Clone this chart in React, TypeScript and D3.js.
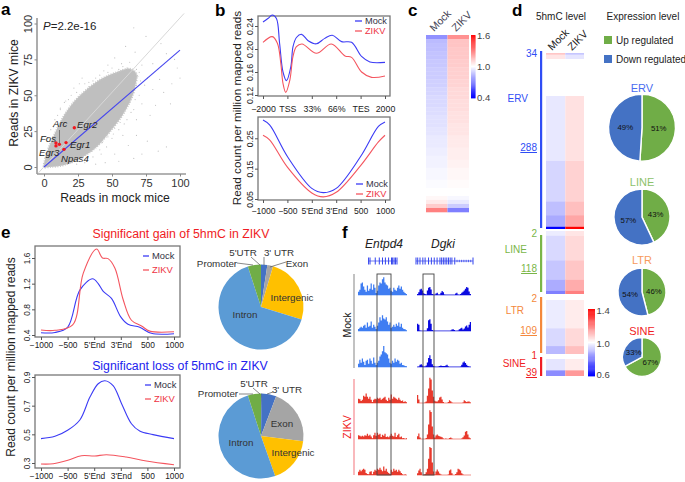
import React, { useEffect, useRef } from 'react';
import * as d3 from 'd3';

const FONT = '"Liberation Sans", Arial, sans-serif';
const BLUE = '#3b3bf5';
const RED = '#f4555f';

// panel a: outline of the dense cloud plus the stray points around it
const cloudOutline: [number, number][] = [
  [0, 0], [1, 6], [3.2, 13], [8, 23.5], [14.2, 35], [21.6, 45], [31.4, 54], [42.4, 61.5],
  [53.4, 66], [63, 68.5], [68, 65], [67, 56], [64, 47], [57, 35], [48.5, 24.6], [38.7, 14], [26.5, 6],
  [14.2, 1.2], [4.4, 0],
];
const strayPoints: [number, number][] = [
  [66, 97], [75, 91], [67, 80], [86, 86], [90, 79], [98, 69], [80, 72], [72, 71], [76, 62], [85, 61],
  [70, 66], [57, 72], [63, 73], [50, 69], [44, 67], [38, 62], [52, 76], [60, 84], [47, 71], [30, 58],
  [24, 52], [18, 47], [12, 40], [8, 33], [5, 26], [3, 20], [22, 55], [15, 45], [28, 62], [10, 36],
  [74, 57], [70, 50], [80, 54], [94, 58], [72, 44], [66, 40], [61, 33], [68, 33], [55, 26], [50, 20],
  [58, 22], [46, 14], [42, 9], [36, 7], [30, 3], [24, 2], [52, 9], [62, 15], [68, 22], [76, 18],
  [84, 11], [90, 14], [66, 6], [45, 3], [38, 2], [55, 4], [72, 9], [33, 56], [36, 60], [41, 64],
  [47, 66], [55, 68], [61, 69], [65, 68], [69, 63], [68, 57], [66, 52], [63, 45], [60, 40], [56, 31],
  [52, 27], [47, 21], [43, 17], [35, 11], [30, 8], [20, 3], [12, 41], [16, 46], [20, 50], [7, 28],
  [26, 58], [33, 59], [58, 70], [68, 68], [71, 60], [67, 47], [64, 38], [59, 30], [51, 23], [41, 12],
  [100, 62], [82, 43], [78, 36], [96, 75], [88, 52], [93, 44],
];
const genePoints: [number, number][] = [[22.3, 27.4], [16.2, 17], [11.3, 15.8], [8.8, 16.7], [8.8, 14.7], [14.7, 12.3]];
const aTicks = [0, 25, 50, 75, 100];

// panel b
const bTopMockT = [0, 0.2, 0.38, 0.55, 0.68, 0.82, 0.96, 1.14, 1.23, 1.37, 1.58, 1.85, 2.19, 2.53, 2.84, 3.22, 3.63, 4.04, 4.38, 5];
const bTopMock = [0.247, 0.253, 0.259, 0.253, 0.21, 0.16, 0.145, 0.169, 0.204, 0.22, 0.2255, 0.2145, 0.209, 0.2185, 0.224, 0.2128, 0.2116, 0.187, 0.1774, 0.1768];
const bTopZikvT = [0, 0.38, 0.59, 0.73, 0.82, 0.93, 1.1, 1.23, 1.37, 1.6, 2.19, 2.8, 3.36, 3.63, 4.04, 4.45, 5];
const bTopZikv = [0.2116, 0.2215, 0.21, 0.175, 0.14, 0.1245, 0.146, 0.187, 0.204, 0.2087, 0.1925, 0.2087, 0.188, 0.1855, 0.16, 0.1507, 0.153];
const bTopLabels = ['\u22122000', 'TSS', '33%', '66%', 'TES', '2000'];
const bBotT = [0, 0.27, 1, 2, 2.47, 3, 4, 4.73, 5];
const bBotMock = [0.31, 0.294, 0.19, 0.085, 0.071, 0.085, 0.19, 0.289, 0.304];
const bBotZikv = [0.26, 0.245, 0.155, 0.07, 0.057, 0.072, 0.16, 0.238, 0.26];
const endLabels = ['\u22121000', '\u2212500', "5'End", "3'End", '500', '1000'];

// panel c
const heatCMock = [0.74, 0.84, 0.85, 0.85, 0.86, 0.86, 0.87, 0.87, 0.88, 0.88, 0.88, 0.89, 0.89, 0.9, 0.9, 0.91, 0.91, 0.91, 0.92, 0.92, 0.93, 0.93, 0.93, 0.94, 0.94, 0.95, 0.95, 0.95, 0.96, 0.96, 0.97, 0.97, 0.97, 0.98, 0.98, 0.98, 0.99, 0.99, 1, 1, 1.02, 1.05, 1.12, 1.3];
const heatCZikv = [1.26, 1.14, 1.14, 1.13, 1.13, 1.13, 1.12, 1.12, 1.11, 1.11, 1.11, 1.1, 1.1, 1.09, 1.09, 1.09, 1.08, 1.08, 1.08, 1.07, 1.07, 1.07, 1.06, 1.06, 1.06, 1.05, 1.05, 1.05, 1.04, 1.04, 1.04, 1.03, 1.03, 1.02, 1.02, 1.02, 1.01, 1.01, 1, 1, 0.98, 0.95, 0.88, 0.7];

// panel d: element counts per heatmap band, and the band values
const topCounts = [4, 9];
const topMock = [1.09, 1.04];
const topZikv = [0.91, 0.96];
const ervCounts = [140, 88, 30, 25, 5];
const ervMock = [0.964, 0.936, 0.9, 0.867, 0.6];
const ervZikv = [1.047, 1.07, 1.1, 1.14, 1.4];
const lineCounts = [9, 49, 38, 22, 7];
const lineMock = [0.97, 0.94, 0.91, 0.87, 0.8];
const lineZikv = [1.04, 1.06, 1.09, 1.13, 1.2];
const ltrCounts = [57, 36, 16];
const ltrMock = [0.97, 0.94, 0.89];
const ltrZikv = [1.03, 1.06, 1.1];
const sineCounts = [26, 13];
const sineMock = [0.96, 0.82];
const sineZikv = [1.03, 1.16];

const upRegulated = [51, 43, 46, 67];
const downRegulated = [49, 57, 54, 33];
const repeatNames = ['ERV', 'LINE', 'LTR', 'SINE'];

// panel e
const gainT = [0, 0.525, 1, 1.46, 1.94, 2.15, 2.34, 2.65, 2.99, 3.27, 3.71, 4.15, 5];
const gainMock = [0.436, 0.44, 0.52, 1.1, 1.276, 1.2, 1.08, 0.97, 0.687, 0.567, 0.52, 0.426, 0.42];
const gainZikvT = [0, 0.525, 1.19, 1.59, 2.09, 2.31, 2.52, 2.78, 3.09, 3.4, 3.78, 4.09, 5];
const gainZikv = [0.478, 0.473, 0.556, 1.365, 1.74, 1.6, 1.59, 1.44, 0.95, 0.63, 0.54, 0.46, 0.45];
const lossMockT = [0, 0.525, 1, 1.46, 1.84, 2.15, 2.4, 2.71, 3.03, 3.4, 3.71, 4.21, 5];
const lossMock = [0.47, 0.486, 0.528, 0.6, 0.76, 0.853, 0.874, 0.84, 0.714, 0.574, 0.523, 0.498, 0.47];
const lossZikvT = [0, 0.46, 1.01, 1.52, 2.02, 2.46, 3.2, 3.96, 5];
const lossZikv = [0.293, 0.295, 0.319, 0.351, 0.349, 0.358, 0.342, 0.314, 0.288];

const piePalette = ['#4472c4', '#a5a5a5', '#ffc000', '#5b9bd5', '#70ad47'];
const gainPie = [2.4, 2.2, 25.2, 65.2, 5];
const lossPie = [0.3, 5.5, 21.2, 17.6, 50.4, 5];
const lossPieColors = ['#264478', '#4472c4', '#a5a5a5', '#ffc000', '#5b9bd5', '#70ad47'];

// panel f: coverage per genomic bin
const entpd4Mock = [
  [15, 25, 55, 60, 40, 25, 15, 45, 20, 30, 55, 25, 50, 35, 10, 20, 45, 60, 55, 75, 85, 60, 50, 45, 30, 35, 20, 15, 35, 25, 20, 35, 45, 30, 40, 25, 15, 10, 5, 3],
  [10, 15, 20, 15, 25, 30, 15, 40, 20, 25, 45, 15, 30, 20, 10, 25, 40, 65, 50, 75, 60, 55, 65, 45, 30, 40, 15, 20, 30, 20, 35, 25, 40, 20, 35, 15, 10, 8, 3, 2],
  [15, 35, 20, 40, 25, 10, 30, 35, 15, 40, 30, 15, 45, 20, 10, 20, 30, 50, 60, 75, 100, 70, 65, 60, 40, 20, 15, 30, 20, 40, 25, 35, 30, 15, 20, 10, 8, 5, 3, 0],
];
const entpd4Zikv = [
  [20, 18, 10, 15, 35, 30, 45, 30, 20, 30, 15, 5, 15, 20, 18, 25, 20, 25, 15, 20, 25, 30, 15, 10, 25, 15, 40, 20, 30, 25, 20, 15, 25, 15, 10, 12, 5, 8, 3, 2],
  [18, 15, 12, 15, 12, 18, 15, 25, 15, 20, 12, 3, 18, 30, 15, 30, 20, 25, 10, 20, 15, 25, 10, 12, 8, 15, 25, 15, 12, 30, 10, 18, 25, 8, 12, 3, 5, 0, 3, 0],
  [15, 25, 18, 25, 30, 25, 10, 5, 3, 15, 18, 3, 15, 25, 20, 30, 25, 35, 25, 18, 40, 20, 30, 15, 10, 5, 25, 15, 30, 20, 25, 15, 25, 18, 10, 3, 0, 3, 0, 0],
];
const dgkiMock = [
  [5, 15, 30, 35, 25, 10, 5, 3, 25, 40, 45, 30, 5, 3, 2, 8, 12, 3, 3, 12, 22, 15, 3, 1, 1, 1, 1, 1, 1, 1, 1, 8, 12, 3, 1, 5, 12, 18, 25, 35, 45, 40, 20, 5, 2],
  [40, 35, 3, 1, 1, 1, 1, 1, 15, 60, 65, 40, 5, 1, 1, 1, 1, 1, 1, 1, 1, 1, 1, 1, 1, 1, 1, 3, 8, 10, 6, 2, 1, 3, 10, 14, 18, 8, 14, 25, 30, 20, 35, 50, 60],
  [1, 3, 12, 15, 8, 3, 3, 8, 25, 50, 65, 45, 15, 5, 3, 2, 1, 3, 6, 8, 6, 5, 5, 8, 12, 4, 1, 1, 1, 1, 1, 1, 1, 1, 1, 3, 12, 25, 30, 22, 12, 5, 3, 1, 1],
];
const dgkiZikv = [
  [45, 20, 0, 0, 0, 0, 3, 8, 40, 80, 140, 130, 70, 35, 12, 8, 8, 15, 30, 35, 20, 5, 0, 0, 0, 5, 15, 10, 3, 0, 0, 0, 0, 0, 0, 0, 0, 3, 15, 10, 5, 8, 8, 3, 0],
  [15, 30, 8, 0, 0, 0, 0, 5, 25, 80, 160, 150, 70, 25, 8, 20, 25, 18, 15, 12, 10, 3, 0, 3, 0, 0, 5, 8, 3, 0, 0, 0, 0, 0, 0, 0, 3, 10, 20, 40, 45, 25, 8, 3, 0],
  [10, 25, 35, 15, 0, 0, 5, 15, 35, 90, 155, 150, 70, 20, 3, 20, 30, 20, 8, 3, 0, 0, 0, 0, 0, 3, 25, 30, 10, 0, 0, 5, 15, 35, 30, 25, 10, 3, 0, 0, 0, 0, 0, 0, 0],
];
const entpd4Exons = [2, 7, 25, 39, 50, 60, 71, 81, 85, 90, 95, 100];
const dgkiExons = [0, 3, 7, 12, 16, 22, 27, 32, 37, 42, 45, 48, 51, 54, 57, 60, 63, 68, 100];
const dgkiSmall = [72, 76, 80, 84, 88, 92, 96];

type Sel = d3.Selection<any, unknown, any, any>;

function txt(g: Sel, x: number, y: number, s: string, size: number, o: any = {}) {
  const t = g.append('text').attr('x', x).attr('y', y).text(s)
    .attr('font-size', size).attr('font-family', FONT)
    .attr('fill', o.fill || '#222')
    .attr('text-anchor', o.anchor || 'start');
  if (o.italic) t.attr('font-style', 'italic');
  if (o.bold) t.attr('font-weight', 'bold');
  if (o.underline) t.attr('text-decoration', 'underline');
  if (o.rotate != null) t.attr('transform', `rotate(${o.rotate},${x},${y})`);
  return t;
}

// R-style boxed line plot with rotated y tick labels
function curvePanel(g: Sel, p: any) {
  const x = d3.scaleLinear().domain([0, 5]).range(p.xRange);
  const y = d3.scaleLinear().domain(p.yDomain).range(p.yRange);
  g.append('rect').attr('x', p.box[0]).attr('y', p.box[1])
    .attr('width', p.box[2] - p.box[0]).attr('height', p.box[3] - p.box[1])
    .attr('fill', 'none').attr('stroke', '#777').attr('stroke-width', 1.3);

  const xa = g.append('g').attr('transform', `translate(0,${p.box[3]})`)
    .call(d3.axisBottom(x).tickValues([0, 1, 2, 3, 4, 5]).tickSize(3).tickSizeOuter(0)
      .tickFormat((_, i) => p.xLabels[i]));
  xa.select('.domain').remove();
  xa.selectAll('line').attr('stroke', '#555');
  xa.selectAll('text').attr('font-size', p.font).attr('font-family', FONT).attr('fill', '#222').attr('dy', 0).attr('y', p.xLabelY);

  const ya = g.append('g').attr('transform', `translate(${p.box[0]},0)`)
    .call(d3.axisLeft(y).tickValues(p.yTicks).tickSize(3).tickSizeOuter(0).tickFormat((d: any) => p.yFormat(d)));
  ya.select('.domain').remove();
  ya.selectAll('line').attr('stroke', '#555');
  ya.selectAll('text').attr('font-size', p.font).attr('font-family', FONT).attr('fill', '#222')
    .attr('text-anchor', 'middle').attr('x', 0).attr('dy', 0)
    .attr('transform', 'rotate(-90) translate(0,-5)');

  p.series.forEach((s: any) => {
    const line = d3.line<number>().x((_, i) => x(s.t[i])).y((d) => y(d)).curve(d3.curveCatmullRom.alpha(0.5));
    g.append('path').attr('d', line(s.v)).attr('fill', 'none').attr('stroke', s.color).attr('stroke-width', 1.1);
  });

  p.series.forEach((s: any, i: number) => {
    const ly = p.legend[1] + i * p.legend[2];
    g.append('line').attr('x1', p.legend[0]).attr('x2', p.legend[0] + p.legend[3])
      .attr('y1', ly - 3).attr('y2', ly - 3).attr('stroke', s.color).attr('stroke-width', 1.3);
    txt(g, p.legend[0] + p.legend[3] + 3, ly, s.name, p.legendFont, { fill: i ? '#ee3344' : '#334' });
  });
}

function heatBands(g: Sel, color: (v: number) => string, x0: number, x1: number, x2: number, top: number, bottom: number, counts: number[], a: number[], b: number[]) {
  const total = d3.sum(counts);
  const y = d3.scaleLinear().domain([0, total]).range([top, bottom]);
  const starts = d3.cumsum(counts);
  counts.forEach((c, i) => {
    const from = y(starts[i] - c);
    const h = y(starts[i]) - from;
    g.append('rect').attr('x', x0).attr('y', from).attr('width', x1 - x0).attr('height', h).attr('fill', color(a[i]));
    g.append('rect').attr('x', x1).attr('y', from).attr('width', x2 - x1).attr('height', h).attr('fill', color(b[i]));
  });
}

function colorBar(g: Sel, color: (v: number) => string, domain: number[], x: number, w: number, top: number, bottom: number, labels: string[], labelY: number[]) {
  const y = d3.scaleLinear().domain([domain[1], domain[0]]).range([top, bottom]);
  const steps = d3.range(domain[0], domain[1], (domain[1] - domain[0]) / 60);
  g.selectAll(null).data(steps).enter().append('rect')
    .attr('x', x).attr('width', w)
    .attr('y', (d) => y(d) - (bottom - top) / 60)
    .attr('height', (bottom - top) / 60 + 0.4)
    .attr('fill', (d) => color(d));
  labels.forEach((l, i) => txt(g, x + w + 1.5, labelY[i] + 3.5, l, 9.5, { fill: '#444' }));
}

function expressionPie(g: Sel, cx: number, cy: number, r: number, up: number, down: number, name: string, color: string, titleY: number) {
  const pie = d3.pie<number>().sort(null);
  const arc = d3.arc<any>().innerRadius(0).outerRadius(r);
  const node = g.append('g').attr('transform', `translate(${cx},${cy})`);
  const colors = ['#70ad47', '#4472c4'];
  pie([up, down]).forEach((d, i) => {
    node.append('path').attr('d', arc(d)).attr('fill', colors[i]).attr('stroke', '#fff').attr('stroke-width', 1.4);
    const [px, py] = arc.centroid(d);
    txt(node, px, py + 3, `${i ? down : up}%`, 7.8, { anchor: 'middle', fill: '#111' });
  });
  txt(g, cx, titleY, name, 11, { anchor: 'middle', fill: color });
}

function regionPie(g: Sel, cx: number, cy: number, r: number, values: number[], colors: string[]) {
  const pie = d3.pie<number>().sort(null);
  const arc = d3.arc<any>().innerRadius(0).outerRadius(r);
  const node = g.append('g').attr('transform', `translate(${cx},${cy})`);
  pie(values).forEach((d, i) => {
    node.append('path').attr('d', arc(d)).attr('fill', colors[i]);
  });
}

function leader(g: Sel, a: number, b: number, c: number, d: number) {
  g.append('line').attr('x1', a).attr('y1', b).attr('x2', c).attr('y2', d).attr('stroke', '#555').attr('stroke-width', 0.7);
}

function track(g: Sel, values: number[], x0: number, x1: number, base: number, color: string, full = 18) {
  const x = d3.scaleLinear().domain([0, values.length - 1]).range([x0, x1]);
  const y = d3.scaleLinear().domain([0, 100]).range([base, base - full]);
  const area = d3.area<number>().x((_, i) => x(i)).y0(base).y1((d) => y(d)).curve(d3.curveStepAfter);
  g.append('path').attr('d', area(values)).attr('fill', color);
  g.append('line').attr('x1', x0).attr('x2', x1).attr('y1', base).attr('y2', base).attr('stroke', color).attr('stroke-width', 0.8).attr('stroke-opacity', 0.7);
}

function geneModel(g: Sel, exons: number[], small: number[], x0: number, x1: number, y: number) {
  const x = d3.scaleLinear().domain([0, 100]).range([x0, x1]);
  const c = '#3344ee';
  g.append('line').attr('x1', x0).attr('x2', x1).attr('y1', y).attr('y2', y).attr('stroke', c).attr('stroke-width', 0.7);
  exons.forEach((e) => g.append('line').attr('x1', x(e)).attr('x2', x(e)).attr('y1', y - 3.5).attr('y2', y + 3.5).attr('stroke', c).attr('stroke-width', 1));
  small.forEach((e) => g.append('line').attr('x1', x(e)).attr('x2', x(e)).attr('y1', y - 1.2).attr('y2', y + 1.2).attr('stroke', c).attr('stroke-width', 0.8));
}

const App: React.FC = () => {
  const ref = useRef<SVGSVGElement | null>(null);

  useEffect(() => {
    const svg = d3.select(ref.current) as unknown as Sel;
    svg.selectAll('*').remove();

    [['a', 1, 15], ['b', 215, 16], ['c', 408, 16], ['d', 512, 16], ['e', 1, 238], ['f', 342, 238]].forEach(([l, x, y]) =>
      txt(svg, x as number, y as number, l as string, 17, { bold: true, fill: '#000' }));

    // ---- a ----
    const a = svg.append('g');
    const ax = d3.scaleLinear().domain([0, 100]).range([44, 180]);
    const ay = d3.scaleLinear().domain([0, 100]).range([167, 23.5]);
    a.append('path').attr('d', d3.line().x((d) => ax(d[0])).y((d) => ay(d[1])).curve(d3.curveCatmullRomClosed)(cloudOutline))
      .attr('fill', '#bfbfbf').attr('stroke', '#c8c8c8').attr('stroke-width', 2).attr('stroke-dasharray', '1 1.5');
    a.selectAll(null).data(strayPoints).enter().append('circle')
      .attr('cx', (d) => ax(d[0])).attr('cy', (d) => ay(d[1])).attr('r', 0.6).attr('fill', '#c4c4c4');
    a.append('line').attr('x1', ax(-4)).attr('y1', ay(-4)).attr('x2', ax(103)).attr('y2', ay(107)).attr('stroke', '#d8d8d8').attr('stroke-width', 1);
    a.append('line').attr('x1', ax(0)).attr('y1', ay(0)).attr('x2', ax(100)).attr('y2', ay(81.4)).attr('stroke', '#4646ee').attr('stroke-width', 1.1);
    a.selectAll(null).data(genePoints).enter().append('circle')
      .attr('cx', (d) => ax(d[0])).attr('cy', (d) => ay(d[1])).attr('r', 1.7).attr('fill', '#f01820');
    leader(a, 59.5, 130, 59.5, 143);
    [['Arc', 53, 127], ['Egr2', 77, 128], ['Fos', 40, 142], ['Egr1', 70, 148], ['Egr3', 39, 156], ['Npas4', 61, 162]].forEach(([s, x, y]) =>
      txt(a, x as number, y as number, s as string, 9.6, { italic: true }));

    const axb = a.append('g').attr('transform', 'translate(0,174)')
      .call(d3.axisBottom(ax).tickValues(aTicks).tickSize(2.5).tickSizeOuter(0));
    axb.select('.domain').attr('d', 'M37,0H186').attr('stroke', '#999').attr('stroke-width', 1.6);
    axb.selectAll('line').attr('stroke', '#888');
    axb.selectAll('text').attr('font-size', 11).attr('font-family', FONT).attr('fill', '#333').attr('y', 5);
    const axl = a.append('g').attr('transform', 'translate(37,0)')
      .call(d3.axisLeft(ay).tickValues(aTicks).tickSize(2.5).tickSizeOuter(0));
    axl.select('.domain').attr('d', 'M0,18V174').attr('stroke', '#999').attr('stroke-width', 1.6);
    axl.selectAll('line').attr('stroke', '#888');
    axl.selectAll('text').attr('font-size', 11).attr('font-family', FONT).attr('fill', '#333')
      .attr('text-anchor', 'middle').attr('x', 0).attr('dy', 0).attr('transform', 'rotate(-90) translate(0,-5)');
    txt(a, 115, 202, 'Reads in mock mice', 12.2, { anchor: 'middle' });
    txt(a, 18, 93, 'Reads in ZIKV mice', 12.2, { anchor: 'middle', rotate: -90 });
    const pLabel = txt(a, 43, 30, '', 11.5);
    pLabel.append('tspan').attr('font-style', 'italic').text('P');
    pLabel.append('tspan').text('=2.2e-16');

    // ---- b ----
    const b = svg.append('g');
    curvePanel(b, {
      box: [258, 16, 390, 96], xRange: [263, 385], yDomain: [0.24, 0.12], yRange: [26, 95],
      xLabels: bTopLabels, yTicks: [0.12, 0.16, 0.2, 0.24], yFormat: d3.format('.2f'), font: 8.8, xLabelY: 15.5,
      series: [
        { name: 'Mock', color: BLUE, t: bTopMockT, v: bTopMock },
        { name: 'ZIKV', color: RED, t: bTopZikvT, v: bTopZikv },
      ],
      legend: [355, 24, 10, 7], legendFont: 9.2,
    });
    curvePanel(b, {
      box: [258, 117, 390, 200], xRange: [263, 385], yDomain: [0.25, 0.05], yRange: [138.3, 199],
      xLabels: endLabels, yTicks: [0.05, 0.15, 0.25], yFormat: d3.format('.2f'), font: 8.6, xLabelY: 13.5,
      series: [
        { name: 'Mock', color: BLUE, t: bBotT, v: bBotMock },
        { name: 'ZIKV', color: RED, t: bBotT, v: bBotZikv },
      ],
      legend: [356, 187, 10, 7], legendFont: 9.2,
    });
    txt(b, 241, 108, 'Read count per million mapped reads', 11.7, { anchor: 'middle', rotate: -90 });

    // ---- c ----
    const c = svg.append('g');
    const colorC = d3.scaleLinear<string>().domain([0.4, 1, 1.6]).range(['#0000ff', '#ffffff', '#ff0000']);
    const rows = d3.scaleBand<number>().domain(d3.range(heatCMock.length)).range([35, 212]);
    const cols = d3.scaleBand<string>().domain(['mock', 'zikv']).range([426, 469]);
    ([['mock', heatCMock], ['zikv', heatCZikv]] as [string, number[]][]).forEach(([k, vals]) => {
      c.selectAll(null).data(vals).enter().append('rect')
        .attr('x', cols(k) as number).attr('width', cols.bandwidth())
        .attr('y', (_, i) => rows(i) as number).attr('height', rows.bandwidth() + 0.3)
        .attr('fill', (d) => colorC(d));
    });
    txt(c, 434, 32, 'Mock', 10.5, { rotate: -45, fill: '#445' });
    txt(c, 456, 32, 'ZIKV', 10.5, { rotate: -45, fill: '#445' });
    colorBar(c, colorC, [0.4, 1.6], 471, 4.5, 35, 98, ['1.6', '1.0', '0.4'], [35, 66, 97]);

    // ---- d ----
    const d = svg.append('g');
    const colorD = d3.scaleLinear<string>().domain([0.6, 1, 1.4]).range(['#0000ff', '#ffffff', '#ff0000']);
    txt(d, 561, 20, '5hmC level', 10, { anchor: 'middle' });
    txt(d, 643, 20, 'Expression level', 10, { anchor: 'middle' });
    txt(d, 552, 51, 'Mock', 10.5, { rotate: -45 });
    txt(d, 572, 51, 'ZIKV', 10.5, { rotate: -45 });
    heatBands(d, colorD, 546, 565.3, 584, 53, 59, topCounts, topMock, topZikv);
    heatBands(d, colorD, 546, 565.3, 584, 96, 229, ervCounts, ervMock, ervZikv);
    heatBands(d, colorD, 546, 565.3, 584, 231, 294, lineCounts, lineMock, lineZikv);
    heatBands(d, colorD, 546, 565.3, 584, 300, 354, ltrCounts, ltrMock, ltrZikv);
    heatBands(d, colorD, 546, 565.3, 584, 359, 376, sineCounts, sineMock, sineZikv);

    const repeatColors = ['#2f4df5', '#7ab648', '#f4883c', '#f01c24'];
    [[51, 228], [235, 292], [297, 353], [357, 376]].forEach(([y0, y1], i) => {
      d.append('rect').attr('x', 540).attr('y', y0).attr('width', 2.2).attr('height', y1 - y0).attr('fill', repeatColors[i]);
    });
    const sideLabels: [string, number, number, number, boolean][] = [
      ['34', 537, 57, 0, false], ['ERV', 528, 102, 0, false], ['288', 537, 151, 0, true],
      ['2', 537, 237, 1, false], ['LINE', 527, 253, 1, false], ['118', 537, 272, 1, true],
      ['2', 537, 302, 2, false], ['LTR', 524, 314, 2, false], ['109', 537, 334, 2, true],
      ['1', 537, 359, 3, false], ['SINE', 526, 367, 3, false], ['39', 537, 376, 3, true],
    ];
    sideLabels.forEach(([s, x, y, k, u]) => txt(d, x, y, s, 10, { anchor: 'end', fill: repeatColors[k], underline: u }));
    colorBar(d, colorD, [0.6, 1.4], 588, 7, 309, 376, ['1.4', '1.0', '0.6'], [310, 343, 374]);

    d.append('rect').attr('x', 604).attr('y', 36).attr('width', 8).attr('height', 8).attr('fill', '#70ad47');
    d.append('rect').attr('x', 604).attr('y', 55).attr('width', 8).attr('height', 8).attr('fill', '#4472c4');
    txt(d, 616, 44, 'Up regulated', 10);
    txt(d, 616, 63, 'Down regulated', 10);

    const pieColors = ['#4a6cf0', '#8dc26b', '#f79a5c', '#f01c24'];
    const pieCenters = [[642, 127.7, 33.5, 92], [642, 217, 28, 186], [642, 292, 24, 264], [642, 357, 19.5, 335]];
    pieCenters.forEach(([cx, cy, r, ty], i) =>
      expressionPie(d, cx, cy, r, upRegulated[i], downRegulated[i], repeatNames[i], pieColors[i], ty));

    // ---- e ----
    const e = svg.append('g');
    txt(e, 181, 238, 'Significant gain of 5hmC in ZIKV', 12.3, { anchor: 'middle', fill: '#f01c24' });
    txt(e, 180, 370, 'Significant loss of 5hmC in ZIKV', 12.3, { anchor: 'middle', fill: '#2222ee' });
    curvePanel(e, {
      box: [35, 246, 180, 337], xRange: [41, 174], yDomain: [1.6, 0.4], yRange: [258, 335],
      xLabels: endLabels, yTicks: [0.4, 0.8, 1.2, 1.6], yFormat: d3.format('.1f'), font: 8.4, xLabelY: 11,
      series: [
        { name: 'Mock', color: BLUE, t: gainT, v: gainMock },
        { name: 'ZIKV', color: RED, t: gainZikvT, v: gainZikv },
      ],
      legend: [143, 259, 14, 6], legendFont: 9.4,
    });
    curvePanel(e, {
      box: [35, 375, 180, 468], xRange: [41, 174], yDomain: [0.9, 0.3], yRange: [377, 463],
      xLabels: endLabels, yTicks: [0.3, 0.5, 0.7, 0.9], yFormat: d3.format('.1f'), font: 8.4, xLabelY: 11,
      series: [
        { name: 'Mock', color: BLUE, t: lossMockT, v: lossMock },
        { name: 'ZIKV', color: RED, t: lossZikvT, v: lossZikv },
      ],
      legend: [145, 388, 14, 6], legendFont: 9.4,
    });
    txt(e, 15, 357, 'Read count per million mapped reads', 12, { anchor: 'middle', rotate: -90 });

    regionPie(e, 261, 307, 42.5, gainPie, piePalette);
    regionPie(e, 261, 436, 42.5, lossPie, lossPieColors);
    leader(e, 237, 263, 253, 265);
    leader(e, 251, 257, 260, 265);
    leader(e, 264, 257, 264, 265);
    leader(e, 286, 262, 270, 267);
    leader(e, 239, 394, 253, 394);
    leader(e, 253, 388, 260, 394);
    leader(e, 273, 392, 267, 394);
    const regionLabels: [string, number, number][] = [
      ["5'UTR", 243, 256], ["3' UTR", 279, 256], ['Promoter', 217, 267], ['Exon', 297, 267], ['Intergenic', 292, 301], ['Intron', 245, 318],
      ["5'UTR", 254, 387], ["3' UTR", 287, 393], ['Promoter', 218, 397], ['Exon', 282, 427], ['Intergenic', 293, 456], ['Intron', 241, 446],
    ];
    regionLabels.forEach(([s, x, y]) => txt(e, x, y, s, 9.8, { anchor: 'middle', fill: '#333' }));

    // ---- f ----
    const f = svg.append('g');
    txt(f, 384, 248, 'Entpd4', 12, { anchor: 'middle', italic: true });
    txt(f, 443, 248, 'Dgki', 12, { anchor: 'middle', italic: true });
    geneModel(f, entpd4Exons, [], 368, 397, 261);
    geneModel(f, dgkiExons, dgkiSmall, 416, 473, 261);
    const bases = [295, 331, 367, 403, 439, 475];
    entpd4Mock.forEach((v, i) => track(f, v, 358, 407, bases[i], '#3f7df2', 21));
    entpd4Zikv.forEach((v, i) => track(f, v, 358, 407, bases[i + 3], '#e8392c', 21));
    dgkiMock.forEach((v, i) => track(f, v, 417, 471, bases[i], '#0a0ae0'));
    dgkiZikv.forEach((v, i) => track(f, v, 417, 471, bases[i + 3], '#e8392c'));
    f.append('line').attr('x1', 354).attr('x2', 354).attr('y1', 274).attr('y2', 368).attr('stroke', '#999').attr('stroke-width', 1.2);
    f.append('line').attr('x1', 354).attr('x2', 354).attr('y1', 379).attr('y2', 475).attr('stroke', '#f58a90').attr('stroke-width', 1.2);
    txt(f, 351, 325, 'Mock', 10.5, { anchor: 'middle', rotate: -90 });
    txt(f, 351, 427, 'ZIKV', 10.5, { anchor: 'middle', rotate: -90, fill: '#f01c24' });
    [[377, 391], [423, 434]].forEach(([x0, x1]) => {
      f.append('rect').attr('x', x0).attr('y', 274).attr('width', x1 - x0).attr('height', 201)
        .attr('fill', 'none').attr('stroke', '#444').attr('stroke-width', 0.9);
    });
  }, []);

  return <svg ref={ref} width={685} height={482} style={{ position: 'absolute', left: 0, top: 0 }} />;
};

export default App;
